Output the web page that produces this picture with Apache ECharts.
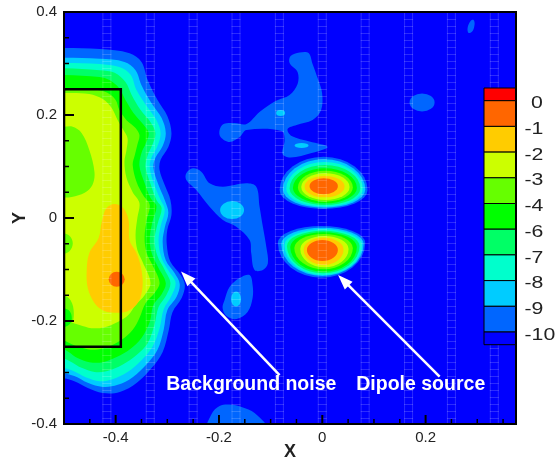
<!DOCTYPE html>
<html><head><meta charset="utf-8">
<script src="https://cdn.jsdelivr.net/npm/echarts@6/dist/echarts.min.js"></script>
<style>html,body{margin:0;padding:0;background:#fff}#c{width:556px;height:463px}</style>
</head><body><div id="c"></div>
<script>
// ---- legend levels and colours ----
const levelLabels = ['0','-1','-2','-3','-4','-6','-7','-8','-9','-10'];
const bandColors = ['#ff0000','#ff6600','#ffcc00','#ccff00','#66ff00','#00ff00','#00ff66','#00ffcc','#00ccff','#0066ff','#0000ff'];
const xTicks = [-0.4,-0.2,0,0.2];
const xMinorTicks = [-0.45,-0.35,-0.3,-0.25,-0.15,-0.1,-0.05,0.05,0.1,0.15,0.25,0.3,0.35];
const yTicks = [-0.4,-0.2,0,0.2,0.4];
const yMinorTicks = [-0.35,-0.3,-0.25,-0.15,-0.1,-0.05,0.05,0.1,0.15,0.25,0.3,0.35];
const meshX = [-0.417,-0.333,-0.25,-0.167,-0.083,0,0.083,0.167,0.25,0.333];

// ---- contour outlines of the background-noise region (x, y) ----
const blobM10 = [[-0.55,0.330],[-0.503,0.330],[-0.431,0.328],[-0.373,0.320],[-0.350,0.303],[-0.338,0.268],[-0.319,0.229],[-0.300,0.198],[-0.292,0.165],[-0.298,0.138],[-0.313,0.113],[-0.315,0.093],[-0.305,0.064],[-0.294,0.035],[-0.292,0.006],[-0.300,-0.023],[-0.301,-0.052],[-0.294,-0.085],[-0.274,-0.111],[-0.266,-0.130],[-0.272,-0.155],[-0.290,-0.183],[-0.297,-0.217],[-0.309,-0.260],[-0.330,-0.291],[-0.359,-0.320],[-0.392,-0.338],[-0.425,-0.340],[-0.454,-0.330],[-0.480,-0.317],[-0.503,-0.311],[-0.55,-0.311]];
const blobM9 = [[-0.55,0.311],[-0.503,0.311],[-0.431,0.309],[-0.383,0.303],[-0.3615,0.287],[-0.350,0.258],[-0.3305,0.223],[-0.311,0.194],[-0.303,0.165],[-0.309,0.140],[-0.323,0.117],[-0.327,0.097],[-0.317,0.064],[-0.305,0.035],[-0.298,0.010],[-0.305,-0.019],[-0.309,-0.047],[-0.303,-0.082],[-0.286,-0.107],[-0.276,-0.128],[-0.282,-0.153],[-0.300,-0.179],[-0.307,-0.217],[-0.319,-0.256],[-0.340,-0.284],[-0.367,-0.309],[-0.396,-0.324],[-0.425,-0.328],[-0.454,-0.320],[-0.480,-0.307],[-0.503,-0.301],[-0.55,-0.301]];
const blobM8 = [[-0.55,0.301],[-0.503,0.301],[-0.431,0.299],[-0.393,0.293],[-0.371,0.278],[-0.360,0.249],[-0.340,0.2175],[-0.321,0.190],[-0.313,0.165],[-0.319,0.140],[-0.3305,0.118],[-0.334,0.097],[-0.325,0.064],[-0.313,0.035],[-0.305,0.016],[-0.313,-0.016],[-0.317,-0.045],[-0.311,-0.078],[-0.296,-0.105],[-0.284,-0.126],[-0.292,-0.151],[-0.307,-0.177],[-0.315,-0.214],[-0.329,-0.2505],[-0.350,-0.276],[-0.377,-0.299],[-0.406,-0.313],[-0.431,-0.317],[-0.458,-0.309],[-0.482,-0.297],[-0.503,-0.291],[-0.55,-0.291]];
const blobM7 = [[-0.55,0.291],[-0.503,0.291],[-0.431,0.287],[-0.402,0.282],[-0.381,0.264],[-0.369,0.239],[-0.352,0.210],[-0.3325,0.186],[-0.323,0.165],[-0.329,0.142],[-0.338,0.122],[-0.342,0.099],[-0.3325,0.066],[-0.321,0.035],[-0.311,0.019],[-0.319,-0.012],[-0.325,-0.043],[-0.319,-0.074],[-0.305,-0.101],[-0.294,-0.126],[-0.302,-0.150],[-0.317,-0.173],[-0.325,-0.208],[-0.338,-0.243],[-0.3595,-0.266],[-0.387,-0.285],[-0.416,-0.297],[-0.441,-0.299],[-0.466,-0.291],[-0.485,-0.280],[-0.503,-0.272],[-0.55,-0.272]];
const blobM6 = [[-0.55,0.278],[-0.503,0.278],[-0.431,0.274],[-0.412,0.268],[-0.393,0.252],[-0.381,0.229],[-0.3655,0.204],[-0.346,0.181],[-0.336,0.165],[-0.342,0.144],[-0.350,0.126],[-0.354,0.101],[-0.344,0.068],[-0.3325,0.039],[-0.321,0.023],[-0.329,-0.008],[-0.334,-0.043],[-0.329,-0.072],[-0.317,-0.097],[-0.303,-0.126],[-0.311,-0.148],[-0.327,-0.169],[-0.334,-0.202],[-0.350,-0.233],[-0.371,-0.254],[-0.398,-0.270],[-0.425,-0.280],[-0.451,-0.280],[-0.474,-0.272],[-0.491,-0.260],[-0.503,-0.254],[-0.55,-0.254]];
const blobM4 = [[-0.55,0.250],[-0.503,0.250],[-0.441,0.249],[-0.416,0.243],[-0.400,0.229],[-0.393,0.210],[-0.379,0.190],[-0.3615,0.175],[-0.354,0.161],[-0.358,0.142],[-0.363,0.122],[-0.367,0.103],[-0.3595,0.070],[-0.346,0.043],[-0.334,0.025],[-0.340,-0.004],[-0.344,-0.039],[-0.340,-0.068],[-0.329,-0.091],[-0.315,-0.126],[-0.325,-0.146],[-0.342,-0.165],[-0.354,-0.194],[-0.367,-0.217],[-0.389,-0.237],[-0.416,-0.2505],[-0.441,-0.256],[-0.466,-0.252],[-0.485,-0.245],[-0.503,-0.237],[-0.55,-0.237]];
const blobM3 = [[-0.55,0.243],[-0.503,0.243],[-0.451,0.241],[-0.425,0.231],[-0.408,0.214],[-0.396,0.190],[-0.385,0.171],[-0.377,0.155],[-0.379,0.132],[-0.383,0.109],[-0.379,0.078],[-0.367,0.050],[-0.354,0.029],[-0.358,0],[-0.3615,-0.033],[-0.358,-0.062],[-0.348,-0.085],[-0.3325,-0.126],[-0.344,-0.150],[-0.3615,-0.169],[-0.375,-0.188],[-0.396,-0.202],[-0.421,-0.212],[-0.447,-0.214],[-0.470,-0.208],[-0.489,-0.202],[-0.503,-0.198],[-0.55,-0.198]];
const holeA = [[-0.55,0.177],[-0.503,0.177],[-0.483,0.177],[-0.466,0.165],[-0.451,0.132],[-0.441,0.089],[-0.445,0.064],[-0.460,0.049],[-0.485,0.041],[-0.503,0.040],[-0.55,0.040]];
const holeB = [[-0.55,-0.029],[-0.503,-0.029],[-0.489,-0.035],[-0.483,-0.049],[-0.489,-0.064],[-0.503,-0.070],[-0.55,-0.070]];
const holeC = [[-0.55,-0.150],[-0.503,-0.150],[-0.487,-0.160],[-0.481,-0.185],[-0.487,-0.205],[-0.55,-0.205]];
const holeD = [[-0.55,-0.175],[-0.503,-0.175],[-0.489,-0.181],[-0.485,-0.196],[-0.491,-0.208],[-0.503,-0.212],[-0.55,-0.212]];
const blobM2 = [[-0.402,0.027],[-0.385,0.019],[-0.375,-0.004],[-0.373,-0.043],[-0.3595,-0.068],[-0.350,-0.101],[-0.348,-0.134],[-0.356,-0.163],[-0.377,-0.181],[-0.402,-0.184],[-0.425,-0.179],[-0.441,-0.165],[-0.454,-0.136],[-0.456,-0.101],[-0.451,-0.068],[-0.433,-0.039],[-0.427,-0.008],[-0.418,0.019]];
// egg outlines: [xLeft, xRight, yTop, yWidest, yBottom]
const spotM1 = [-0.4135,-0.3825,-0.1044,-0.119,-0.1336];

// ---- dipole lobes: level, xLeft, xRight, yTop, yWidest, yBottom ----
const upperLobe = [
  ['-10',-0.0827,0.0877,0.1190,0.0544,0.0175],
  ['-9',-0.0763,0.0832,0.1140,0.0553,0.0200],
  ['-8',-0.0697,0.0786,0.1087,0.0563,0.0219],
  ['-7',-0.0633,0.0736,0.1029,0.0573,0.0252],
  ['-6',-0.0569,0.0670,0.0965,0.0583,0.0285],
  ['-4',-0.0472,0.0592,0.0919,0.0592,0.0317],
  ['-3',-0.0407,0.0529,0.0868,0.0602,0.0350],
  ['-2',-0.0343,0.0432,0.0816,0.0612,0.0402],
  ['-1',-0.0246,0.0302,0.0771,0.0621,0.0460]
];
const lowerLobe = [
  ['-10',-0.0860,0.0832,-0.0155,-0.0486,-0.1159],
  ['-9',-0.0794,0.0800,-0.0188,-0.0505,-0.1126],
  ['-8',-0.0730,0.0767,-0.0219,-0.0524,-0.1107],
  ['-7',-0.0685,0.0722,-0.0247,-0.0544,-0.1074],
  ['-6',-0.0620,0.0670,-0.0278,-0.0563,-0.1043],
  ['-4',-0.0542,0.0592,-0.0311,-0.0583,-0.0996],
  ['-3',-0.0426,0.0509,-0.0350,-0.0602,-0.0957],
  ['-2',-0.0362,0.0412,-0.0383,-0.0612,-0.0913],
  ['-1',-0.0298,0.0302,-0.0427,-0.0621,-0.0835]
];

// ---- scattered noise patches (level -10) and their -9 islands ----
const patchA = [[-0.1988,0.1709],[-0.1911,0.1825],[-0.1698,0.1845],[-0.1466,0.1825],[-0.1215,0.2059],[-0.0904,0.2272],[-0.0633,0.2389],[-0.0478,0.2602],[-0.0478,0.2835],[-0.0633,0.3010],[-0.0614,0.3146],[-0.0440,0.3214],[-0.0265,0.3204],[-0.0188,0.2991],[-0.0091,0.2719],[-0.0004,0.2428],[-0.0023,0.2097],[-0.0188,0.1903],[-0.0498,0.1806],[-0.0672,0.1728],[-0.0594,0.1592],[-0.0246,0.1486],[0.0103,0.1379],[-0.0207,0.1262],[-0.0614,0.1175],[-0.0769,0.1243],[-0.0730,0.1515],[-0.0788,0.1690],[-0.1466,0.1709],[-0.1601,0.1573],[-0.1795,0.1476],[-0.1969,0.1573]];
const patchB = [[-0.2633,0.0868],[-0.2505,0.0965],[-0.2343,0.0899],[-0.2182,0.0674],[-0.1924,0.0608],[-0.1471,0.0674],[-0.1278,0.0608],[-0.1214,0.0219],[-0.1150,-0.0169],[-0.1084,-0.0557],[-0.1053,-0.0880],[-0.1150,-0.1010],[-0.1311,-0.1010],[-0.1375,-0.0686],[-0.1407,-0.0427],[-0.1665,-0.0169],[-0.1924,-0.0039],[-0.2182,0.0219],[-0.2439,0.0544],[-0.2633,0.0738]];
const patchC = [[-0.1891,-0.1592],[-0.1795,-0.1340],[-0.1601,-0.1165],[-0.1407,-0.1107],[-0.1349,-0.1301],[-0.1349,-0.1554],[-0.1446,-0.1825],[-0.1659,-0.1961],[-0.1853,-0.1903],[-0.1930,-0.1748]];
const patchD = [[-0.2221,-0.4117],[-0.2143,-0.3806],[-0.1988,-0.3651],[-0.1795,-0.3622],[-0.1562,-0.3670],[-0.1311,-0.3787],[-0.1059,-0.4117]];
const patchF = [[0.2832,0.3593],[0.2813,0.3690],[0.2871,0.3826],[0.2929,0.3845],[0.2949,0.3767],[0.2910,0.3631]];
const patchE = [0.1690,0.2174,0.2418,0.2243,0.2068];
const islandA1 = [-0.0894,-0.0720,0.2097,0.2039,0.1981];
const islandA2 = [-0.0537,-0.0265,0.1457,0.1408,0.1359];
const islandB1 = [-0.1978,-0.1514,0.0330,0.0155,-0.0020];
const islandC1 = [-0.1766,-0.1572,-0.1427,-0.1573,-0.1719];

// ---- annotations ----
const boxX = [-0.5,-0.39];
const boxY = [-0.25,0.25];
const arrows = [[[-0.0827,-0.3049],[-0.2734,-0.1039]],[[0.2271,-0.3078],[0.0306,-0.1107]]];
const notes = [['Background noise',-0.302,-0.3233],['Dipole source',0.0658,-0.3233]];

// ---- build the ordered list of filled regions ----
const shapes = [
  {lv:'-10',poly:blobM10},{lv:'-9',poly:blobM9},{lv:'-8',poly:blobM8},{lv:'-7',poly:blobM7},
  {lv:'-6',poly:blobM6},{lv:'-4',poly:blobM4},{lv:'-3',poly:blobM3},
  {lv:'-4',poly:holeA},{lv:'-4',poly:holeB},{lv:'-4',poly:holeC},{lv:'-6',poly:holeD},
  {lv:'-2',poly:blobM2},{lv:'-1',egg:spotM1}
];
upperLobe.forEach(r => shapes.push({lv:r[0], egg:r.slice(1)}));
lowerLobe.forEach(r => shapes.push({lv:r[0], egg:r.slice(1)}));
[patchA,patchB,patchC,patchD,patchF].forEach(p => shapes.push({lv:'-10',poly:p}));
shapes.push({lv:'-10',egg:patchE});
[islandA1,islandA2,islandB1,islandC1].forEach(e => shapes.push({lv:'-9',egg:e}));

function colorOf(lv){ return bandColors[levelLabels.indexOf(lv)]; }

function renderShape(params, api){
  const s = shapes[params.dataIndex];
  const fill = colorOf(s.lv);
  if (s.poly){
    return {type:'polygon', shape:{points:s.poly.map(p => api.coord(p)), smooth:0.35}, style:{fill:fill}};
  }
  const e = s.egg;
  const L = api.coord([e[0],e[3]]), R = api.coord([e[1],e[3]]);
  const T = api.coord([e[0],e[2]]), B = api.coord([e[0],e[4]]);
  const rx = (R[0]-L[0])/2, ryT = Math.max(0.5,L[1]-T[1]), ryB = Math.max(0.5,B[1]-L[1]);
  const d = 'M'+L[0]+','+L[1]+' A'+rx+','+ryT+' 0 0 1 '+R[0]+','+R[1]+' A'+rx+','+ryB+' 0 0 1 '+L[0]+','+L[1]+' Z';
  return {type:'path', shape:{pathData:d}, style:{fill:fill}};
}

function renderMesh(params, api){
  const x = meshX[params.dataIndex];
  const t = api.coord([x,0.4]), b = api.coord([x,-0.4]);
  const st = 'rgba(255,255,255,0.17)';
  return {type:'group', children:[
    {type:'line', shape:{x1:t[0]-4,y1:t[1],x2:b[0]-4,y2:b[1]}, style:{stroke:st,lineWidth:1}},
    {type:'line', shape:{x1:t[0]+4,y1:t[1],x2:b[0]+4,y2:b[1]}, style:{stroke:st,lineWidth:1}},
    {type:'line', shape:{x1:t[0],y1:t[1],x2:b[0],y2:b[1]}, style:{stroke:st,lineWidth:9,lineDash:[1,6]}}
  ]};
}

function renderBox(params, api){
  const p0 = api.coord([boxX[0],boxY[1]]), p1 = api.coord([boxX[1],boxY[0]]);
  return {type:'rect', shape:{x:p0[0],y:p0[1],width:p1[0]-p0[0],height:p1[1]-p0[1]}, style:{fill:null,stroke:'#000',lineWidth:2.5}};
}

function renderArrow(params, api){
  const a = arrows[params.dataIndex];
  const p0 = api.coord(a[0]), p1 = api.coord(a[1]);
  const dx = p1[0]-p0[0], dy = p1[1]-p0[1], len = Math.hypot(dx,dy);
  const ux = dx/len, uy = dy/len, hl = 15, hw = 5.5;
  const bx = p1[0]-ux*hl, by = p1[1]-uy*hl;
  return {type:'group', children:[
    {type:'line', shape:{x1:p0[0],y1:p0[1],x2:bx+ux*2,y2:by+uy*2}, style:{stroke:'#fff',lineWidth:2.5}},
    {type:'polygon', shape:{points:[[p1[0],p1[1]],[bx-uy*hw,by+ux*hw],[bx+uy*hw,by-ux*hw]]}, style:{fill:'#fff'}}
  ]};
}

function renderNote(params, api){
  const n = notes[params.dataIndex];
  const p = api.coord([n[1],n[2]]);
  return {type:'text', x:p[0], y:p[1], style:{text:n[0], fill:'#fff', font:'bold 19.5px "Liberation Sans", Arial, sans-serif', align:'left', verticalAlign:'middle'}};
}

// tick marks along the bottom and left edges
const tickList = [];
xTicks.forEach(v => tickList.push(['x', v, 9, 2]));
xMinorTicks.forEach(v => tickList.push(['x', v, 5, 1.5]));
yTicks.forEach(v => tickList.push(['y', v, 10, 2]));
yMinorTicks.forEach(v => tickList.push(['y', v, 5, 1.5]));

const G = {left:64, top:12, width:452, height:412};
const FONT = '"Liberation Sans", Arial, sans-serif';

// colour bar (legend)
const cb = {x:484, w:31.5, top:88, first:12.7, step:25.7};
const cbEls = [];
let yy = cb.top;
for (let i = 0; i < bandColors.length; i++){
  const h = (i === 0 || i === bandColors.length-1) ? cb.first : cb.step;
  cbEls.push({type:'rect', shape:{x:cb.x,y:yy,width:cb.w,height:h}, style:{fill:bandColors[i],stroke:'#000',lineWidth:1}, z:100});
  yy += h;
  if (i < levelLabels.length){
    const lab = levelLabels[i];
    cbEls.push({type:'text', x: lab.charAt(0)==='-' ? 524.5 : 531, y: yy+3, scaleX:1.25, z:100,
      style:{text:lab, fill:'#222', font:'17px '+FONT, align:'left', verticalAlign:'middle'}});
  }
}
cbEls.push({type:'rect', shape:{x:G.left,y:G.top,width:G.width,height:G.height}, style:{fill:'none',stroke:'#000',lineWidth:2}, z:90});
// axis titles
cbEls.push({type:'text', x:G.left+G.width/2, y:452, z:100, style:{text:'X', fill:'#222', font:'bold 18px '+FONT, align:'center', verticalAlign:'middle'}});
cbEls.push({type:'text', x:20, y:G.top+G.height/2, rotation:Math.PI/2, z:100, style:{text:'Y', fill:'#222', font:'bold 18px '+FONT, align:'center', verticalAlign:'middle'}});

const chart = echarts.init(document.getElementById('c'), null, {renderer:'canvas'});
chart.setOption({
  animation:false,
  grid:{left:G.left, top:G.top, width:G.width, height:G.height, show:true, backgroundColor:'#0000ff', borderWidth:0,
        containLabel:false, outerBoundsMode:'none'},
  xAxis:{type:'value', min:-0.5, max:0.375, position:'bottom',
     axisLine:{show:false, onZero:false}, splitLine:{show:false},
     axisTick:{show:false, customValues:xTicks},
     axisLabel:{customValues:xTicks, fontSize:15, color:'#222', margin:6, fontFamily:FONT}},
  yAxis:{type:'value', min:-0.4, max:0.4, interval:0.2, position:'left',
    axisLine:{show:false, onZero:false}, splitLine:{show:false},
    axisTick:{show:false},
    axisLabel:{fontSize:15, color:'#222', margin:7, fontFamily:FONT}},
  series:[
    {type:'custom', coordinateSystem:'cartesian2d', clip:true, renderItem:renderShape, data:shapes.map(() => [0,0]), z:2, silent:true},
    {type:'custom', coordinateSystem:'cartesian2d', clip:true, renderItem:renderMesh, data:meshX.map(x => [x,0]), z:3, silent:true},
    {type:'custom', coordinateSystem:'cartesian2d', clip:true, renderItem:renderBox, data:[[boxX[0],boxY[0]]], z:4, silent:true},
    {type:'custom', coordinateSystem:'cartesian2d', clip:true, renderItem:renderArrow, data:arrows.map(a => a[1]), z:5, silent:true},
    {type:'custom', coordinateSystem:'cartesian2d', clip:false, renderItem:renderNote, data:notes.map(n => [n[1],n[2]]), z:6, silent:true}
  ]
});
// ticks placed through the chart's own scales
const tickEls = tickList.map(t => {
  if (t[0] === 'x'){
    const p = chart.convertToPixel({gridIndex:0}, [t[1], -0.4]);
    return {type:'line', z:110, shape:{x1:p[0],y1:p[1],x2:p[0],y2:p[1]-t[2]}, style:{stroke:'#000',lineWidth:t[3]}};
  }
  const p = chart.convertToPixel({gridIndex:0}, [-0.5, t[1]]);
  return {type:'line', z:110, shape:{x1:p[0],y1:p[1],x2:p[0]+t[2],y2:p[1]}, style:{stroke:'#000',lineWidth:t[3]}};
});
chart.setOption({graphic:{elements:cbEls.concat(tickEls)}});
</script></body></html>
